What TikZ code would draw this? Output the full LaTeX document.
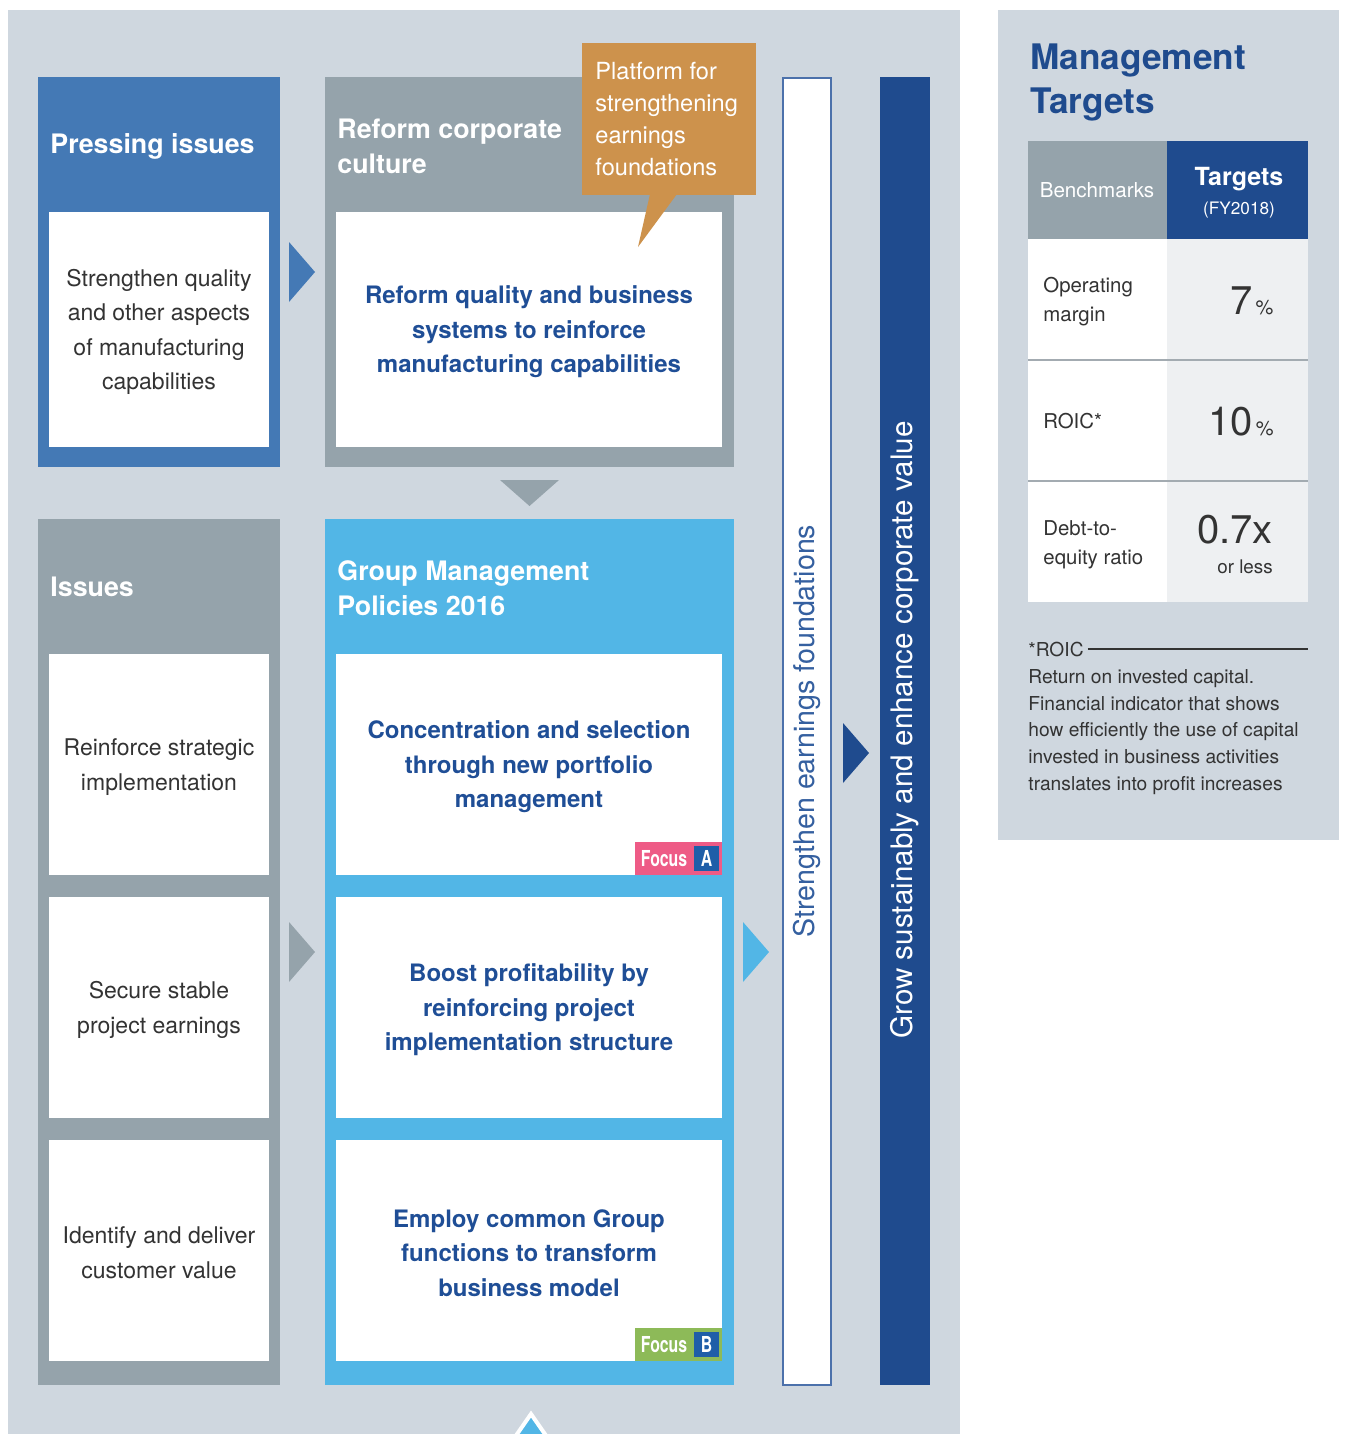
\documentclass[tikz,border=0pt]{standalone}
\usepackage{fontspec}
\setmainfont{TeX Gyre Heros}

\definecolor{panel}{HTML}{CFD7DF}
\definecolor{pressblue}{HTML}{4479B5}
\definecolor{boxgray}{HTML}{95A3AB}
\definecolor{skyblue}{HTML}{52B6E6}
\definecolor{navy}{HTML}{1F4B8E}
\definecolor{ochre}{HTML}{CD924C}
\definecolor{textblue}{HTML}{1F4E96}
\definecolor{textgray}{HTML}{333333}
\definecolor{cellgray}{HTML}{EEF0F2}
\definecolor{rulegray}{HTML}{A3ABB1}
\definecolor{focuspink}{HTML}{EE5B86}
\definecolor{focusgreen}{HTML}{8DBA58}
\definecolor{focusblue}{HTML}{1F5EA8}

\begin{document}
\begin{tikzpicture}[x=0.5pt,y=-0.5pt,
    boxtitle/.style={anchor=west, align=left, inner sep=0pt, text=white,
      font=\fontsize{13.4}{17.5}\selectfont\bfseries},
    issuetext/.style={align=center, inner sep=0pt, text=textgray,
      font=\fontsize{11.5}{17.3}\selectfont},
    policytext/.style={align=center, inner sep=0pt, text=textblue,
      font=\fontsize{12}{17.3}\selectfont\bfseries},
    celltext/.style={anchor=west, align=left, inner sep=0pt, text=textgray,
      font=\fontsize{10.2}{14.5}\selectfont},
    bigfig/.style={anchor=base, inner sep=0pt, text=textgray,
      font=\fontsize{20}{24}\selectfont},
    focuslabel/.style={inner sep=0pt, text=white,
      font=\fontsize{11}{13}\selectfont\bfseries}
  ]
  \useasboundingbox (0,0) rectangle (1345,1434);

  % background panels
  \fill[panel] (8,10) rectangle (960,1434);
  \fill[panel] (998,10) rectangle (1339,840);

  % pressing issues
  \fill[pressblue] (38,77) rectangle (280,467);
  \fill[white] (49,212) rectangle (269,447);
  \node[boxtitle] (pressing) at (50,146) {Pressing issues};
  \node[issuetext] (quality) at (159,332) {Strengthen quality\\and other aspects\\of manufacturing\\capabilities};
  \fill[pressblue] (289,242) -- (315,272) -- (289,302) -- cycle;

  % reform corporate culture
  \fill[boxgray] (325,77) rectangle (734,467);
  \fill[white] (336,212) rectangle (722,447);
  \node[boxtitle] (reform) at (337,146) {Reform corporate\\culture};
  \node[policytext] (systems) at (529,332) {Reform quality and business\\systems to reinforce\\manufacturing capabilities};

  % callout
  \fill[ochre] (582,43) rectangle (756,195);
  \fill[ochre] (650,194) -- (677,194) -- (638,247) -- cycle;
  \node[anchor=west, align=left, inner sep=0pt, text=white,
    font=\fontsize{11.8}{16}\selectfont] (platform) at (595,119)
    {Platform for\\strengthening\\earnings\\foundations};

  \fill[boxgray] (500,480) -- (559,480) -- (529.5,506) -- cycle;

  % issues
  \fill[boxgray] (38,519) rectangle (280,1385);
  \node[boxtitle] (issues) at (50,587) {Issues};
  \foreach \y in {654,897,1140}
    \fill[white] (49,\y) rectangle (269,\y+221);
  \node[issuetext] (strategic) at (159,767) {Reinforce strategic\\implementation};
  \node[issuetext] (stable) at (159,1010) {Secure stable\\project earnings};
  \node[issuetext] (custvalue) at (159,1253) {Identify and deliver\\customer value};
  \fill[boxgray] (289,922) -- (315,952) -- (289,982) -- cycle;

  % group management policies
  \fill[skyblue] (325,519) rectangle (734,1385);
  \node[boxtitle] (gmp) at (337,588) {Group Management\\Policies 2016};
  \foreach \y in {654,897,1140}
    \fill[white] (336,\y) rectangle (722,\y+221);
  \node[policytext] (portfolio) at (529,767) {Concentration and selection\\through new portfolio\\management};
  \node[policytext] (profit) at (529,1010) {Boost profitability by\\reinforcing project\\implementation structure};
  \node[policytext] (functions) at (529,1253) {Employ common Group\\functions to transform\\business model};

  % focus badges
  \fill[focuspink] (635,842) rectangle (722,875);
  \fill[focusblue] (694,846) rectangle (719,871);
  \node[focuslabel] (focusa) at (664,858.5) {\scalebox{0.72}[1]{Focus}};
  \node[focuslabel] (marka) at (706.5,858.5) {\scalebox{0.72}[1]{A}};
  \fill[focusgreen] (635,1328) rectangle (722,1361);
  \fill[focusblue] (694,1332) rectangle (719,1357);
  \node[focuslabel] (focusb) at (664,1344.5) {\scalebox{0.72}[1]{Focus}};
  \node[focuslabel] (markb) at (706.5,1344.5) {\scalebox{0.72}[1]{B}};

  \fill[skyblue] (743,922) -- (769,952) -- (743,982) -- cycle;
  \filldraw[fill=skyblue, draw=white, line width=2pt] (531,1414) -- (556,1450) -- (506,1450) -- cycle;

  % vertical bars
  \draw[fill=white, draw=textblue!80, line width=0.8pt] (783,78) rectangle (831,1385);
  \node[rotate=90, inner sep=0pt, text=textblue!90,
    font=\fontsize{14.3}{17}\selectfont] (earnings) at (807,731)
    {Strengthen earnings foundations};
  \fill[navy] (843,723) -- (869,753) -- (843,783) -- cycle;
  \fill[navy] (880,77) rectangle (930,1385);
  \node[rotate=90, inner sep=0pt, text=white,
    font=\fontsize{14.8}{17}\selectfont] (grow) at (905,730)
    {Grow sustainably and enhance corporate value};

  % management targets
  \node[anchor=west, align=left, inner sep=0pt, text=navy,
    font=\fontsize{17.6}{22}\selectfont\bfseries] (mgmt) at (1030,83)
    {Management\\Targets};
  \fill[boxgray] (1028,141) rectangle (1167,239);
  \fill[navy] (1167,141) rectangle (1308,239);
  \fill[white] (1028,239) rectangle (1167,602);
  \fill[cellgray] (1167,239) rectangle (1308,602);
  \draw[rulegray, line width=0.6pt] (1028,360) -- (1308,360);
  \draw[rulegray, line width=0.6pt] (1028,481) -- (1308,481);

  \node[inner sep=0pt, text=white, font=\fontsize{10.3}{12}\selectfont] (bench) at (1097,190) {Benchmarks};
  \node[anchor=base, inner sep=0pt, text=white, font=\fontsize{12.5}{14}\selectfont\bfseries] (targets) at (1239,185) {Targets};
  \node[anchor=base, inner sep=0pt, text=white, font=\fontsize{8.6}{10}\selectfont] (fy) at (1239,214) {(FY2018)};

  \node[celltext] (opmargin) at (1043,302) {Operating\\margin};
  \node[celltext] (roic) at (1043,421) {ROIC*};
  \node[celltext] (debt) at (1043,545) {Debt-to-\\equity ratio};

  \node[bigfig] (seven) at (1252,314) {7\kern1.5pt{\fontsize{10}{12}\selectfont\%}};
  \node[bigfig] (ten) at (1241,435) {10\kern1.5pt{\fontsize{10}{12}\selectfont\%}};
  \node[bigfig] (ratio) at (1235,543) {0.7x};
  \node[anchor=base, inner sep=0pt, text=textgray, font=\fontsize{9.4}{11}\selectfont] (orless) at (1245,573) {or less};

  % footnote
  \node[anchor=west, inner sep=0pt, text=textgray, font=\fontsize{9.6}{13.3}\selectfont] (roicnote) at (1028,649) {*ROIC};
  \draw[textgray, line width=0.6pt] (roicnote.east) ++(4,0) -- (1308,649);
  \node[anchor=west, align=left, inner sep=0pt, text=textgray,
    font=\fontsize{9.6}{13.3}\selectfont] (roicdef) at (1028,732)
    {Return on invested capital.\\Financial indicator that shows\\how efficiently the use of capital\\invested in business activities\\translates into profit increases};
\end{tikzpicture}
\end{document}
